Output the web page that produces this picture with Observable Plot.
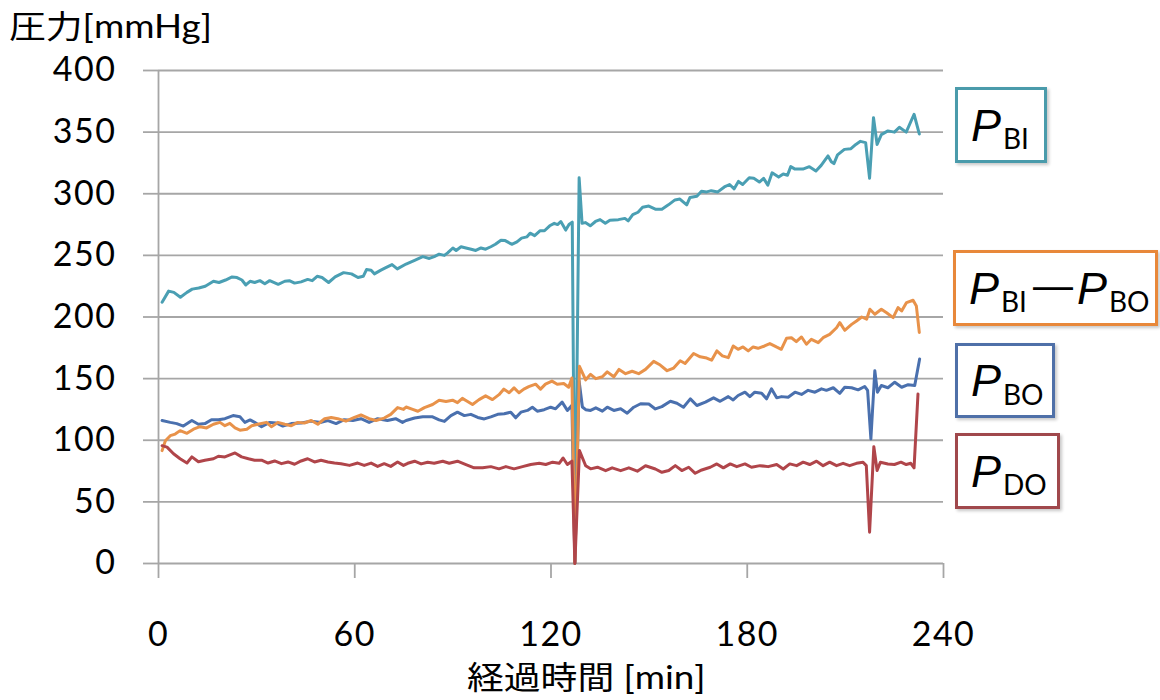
<!DOCTYPE html>
<html>
<head>
<meta charset="utf-8">
<script src="https://cdn.jsdelivr.net/npm/d3@7"></script>
<script src="https://cdn.jsdelivr.net/npm/@observablehq/plot@0.6"></script>
<style>
  html, body { margin:0; padding:0; background:#fff; }
  #wrap { position:relative; width:1160px; height:700px; overflow:hidden; }
  #wrap svg { position:absolute; left:0; top:0; }
  #wrap svg text { letter-spacing:1.5px; }
  .ttl { position:absolute; line-height:1; white-space:nowrap; color:#000; transform:scaleX(1.15); transform-origin:0 0; }
  .cjk { font-family:"Noto Sans CJK JP", sans-serif; }
  .lat { font-family:Lato, "Noto Sans CJK JP", sans-serif; }
  .lg { position:absolute; box-sizing:border-box; border:3px solid; background:#fff;
        box-shadow:2px 2px 3px rgba(0,0,0,0.22); display:flex; align-items:center;
        padding-left:13px; white-space:nowrap; color:#000; }
  .lg .P { font:italic 45px "Liberation Sans", Arial, sans-serif; line-height:1; }
  .lg .s { font:28px Lato, sans-serif; line-height:1; position:relative; top:13px; margin-left:2px; }
  .lg .d { font:40px "Liberation Sans", Arial, sans-serif; line-height:1; position:relative; top:-3px; margin:0 4px 0 6px; }
</style>
</head>
<body>
<div id="wrap"></div>
<script>
// ---- data (minutes, mmHg) ----
const xTicks = [0, 60, 120, 180, 240];
const yTicks = [0, 50, 100, 150, 200, 250, 300, 350, 400];

const P_BI = [[1.1,212],[3.1,221],[4.7,220],[6.7,216],[8.7,220],[10.3,222.6],[12.3,223.5],[14.3,225],[16.8,229],[18.5,228],[20.5,230],[22.5,232.5],[24,232],[25.5,230],[26.7,226],[28,229],[29.4,228],[31,229.5],[32.5,227],[34,229.5],[36.6,226.5],[38.6,229],[40,229.5],[41.6,227.5],[43.6,228.5],[45.6,230.5],[47,229.5],[48.5,233],[50,232],[52,228],[54,232.5],[56.6,236],[59,235],[61,232],[62.6,233],[63.6,238.5],[65,238],[66,235],[68,238],[69.5,240],[71.4,242.5],[73,239],[75.7,243],[78.3,246],[80.8,249],[82.8,247.5],[84.3,249],[85.8,251],[87.4,250],[88.4,252],[90,256],[91,254],[92.5,257],[94,256],[95.6,255],[97,254],[98.6,256],[100,255],[101.6,257],[103,259],[104.7,262.3],[106,262],[108,259],[109.6,261],[111,264],[112.6,265],[113.6,268],[115,266],[116.7,270],[118,270],[119.6,274],[121,276],[122,275],[123,277.5],[124.5,270.5],[125.5,275],[126.5,277],[127.3,0],[128.6,313],[129.5,276],[130.5,276.6],[132,274],[133.6,277.5],[135,279],[136.6,276],[138,278.5],[140.6,279],[142.6,280],[143.6,278],[145,283],[146.6,285],[148,289],[149.9,290],[151.9,287.5],[153.9,287.5],[155.9,291],[157.9,295],[159.4,295.7],[161.5,291],[162.5,297],[164.6,298],[166,302],[167.6,301.5],[169,302.5],[171,301.5],[173,305.5],[174.6,307.5],[176,304],[177.3,310],[178.6,307.5],[180.6,313],[182,312.5],[183.7,309.5],[185,312.5],[186.3,307],[187.6,317],[189.6,313.5],[191,316],[192.3,315],[193.3,322],[194.6,320],[197,320],[199,322],[201,318.5],[202.6,323],[204.7,330.7],[205.7,326],[206.5,324.5],[207.6,331.5],[209.7,336],[211.7,336.6],[213.2,340],[214.6,342.5],[216.2,341.5],[217.4,312.6],[218.6,361.7],[219.7,340],[221,348],[223,351],[225,350],[226.5,354],[228.6,350],[231,364.5],[232.6,348.5]];

const P_BO = [[1.1,116],[3.6,114.5],[5.6,113.5],[7.6,111.5],[10.2,116],[12.2,113],[14.2,113.5],[16.2,116.7],[18.3,116.7],[20.3,117.5],[22.8,120],[24.9,119],[26.4,114.5],[28,116.5],[29.4,114.5],[31.5,111],[34,114.5],[36,114],[38,111.5],[40.6,113.5],[43.6,114],[46.7,115.5],[49.7,114.5],[51.8,116],[54.3,113.5],[56.8,116.7],[59.4,116],[61.9,117.5],[64.4,114.5],[67,117.5],[70,116],[72.5,117.5],[74.6,114.5],[75.7,116],[78.3,118],[80.8,119],[83.8,119],[85.8,116.5],[87.4,115.3],[89.4,120],[91.4,122.8],[93.5,120],[95.5,121],[97.6,118.5],[99.6,117.3],[101.6,119],[103.7,121],[105.7,121.5],[107.7,122.8],[109.2,118.2],[110.8,122.8],[112.8,124.2],[114.3,126.8],[115.8,123.6],[117.9,124.8],[119.9,126.8],[121.4,125.5],[123.4,130.9],[125,124.2],[126.4,128.3],[127.3,0],[128.6,148],[129.6,127],[130.6,124.8],[132.1,124.2],[133.7,126.3],[135.7,123.6],[137.2,126.8],[139.2,124.2],[141.3,125.5],[143.3,122],[145.3,126.8],[147.4,129.6],[149.9,129.4],[151.9,125.4],[153.9,127.3],[156.5,131.6],[158.5,130],[160.5,126.8],[162.6,133.6],[164.6,128.2],[167.2,130.9],[169.7,134.4],[171.7,131.6],[174.2,135.4],[175.7,132.7],[177.2,136.3],[179.3,139],[180.8,135.4],[182.3,139],[184.4,138.1],[185.9,133.6],[187.4,141.7],[189,134.4],[190.5,135.4],[192.5,134.9],[194.6,139],[196.6,137.2],[198.6,140.5],[200.7,139],[202.7,141.7],[204.2,140.5],[206.3,142.6],[208.3,138.1],[209.8,143],[211.9,142.6],[213.9,140.9],[215.9,143.6],[216.8,140.5],[217.8,101],[219,156.4],[219.8,139],[221,144.4],[223,142.6],[225.1,147.1],[227.2,143],[229.2,145.1],[231.2,144.4],[232.7,166]];

const P_DIFF = [[1.1,91.6],[2.1,99.6],[3.6,103.7],[5.1,105],[6.6,107.8],[8.7,105.6],[10.7,109],[12.7,111],[14.7,110],[16.8,113],[18.8,114.5],[20.3,111.8],[21.8,113.7],[23.4,110],[24.9,108.2],[27,109],[28.5,111.8],[30.4,113],[33,114.5],[34.5,111],[36.5,114.5],[38.6,113],[40.6,111.8],[42.6,114.5],[44.6,114],[46.7,116],[48.7,113],[50.8,117.5],[52.8,118.5],[54.8,117.5],[57.3,115.5],[59.9,118.5],[61.9,120.5],[64.4,117.5],[66.5,116],[69,118],[71,121],[73.1,126.5],[74.9,125],[75.7,127],[77.7,125],[79.3,123.5],[81.3,126.5],[83.8,129],[85.8,132.5],[87.9,131.5],[89.9,132.5],[91.4,130.5],[92.9,134],[94.5,131.5],[96,129],[98,133],[100,136],[102.1,133],[104.1,137],[105.6,141.5],[107.2,138.5],[108.7,142.5],[110.2,138.5],[111.7,141.5],[113.2,143.5],[115.3,145.5],[116.8,141.5],[118.3,145.5],[120.3,148],[121.9,145.5],[123.9,146],[125.4,143],[126.4,150.5],[127.3,0],[128.7,160],[130.6,149],[132.1,153.5],[133.7,150],[135.7,151.5],[137.2,155.5],[139.2,151.5],[140.8,157.5],[142.8,154],[144.8,156],[146.8,154],[148.9,157.5],[151.4,164],[153.4,161],[155.5,156.4],[157.5,158.6],[159.5,164.5],[161,162.3],[163.6,170.4],[165.6,167.7],[167.6,166.7],[169.1,165],[170.7,172.5],[172.4,168.5],[174.2,167],[175.7,176.5],[177.2,173.8],[178.7,175.7],[180.3,172.5],[181.8,175.7],[183.3,174.6],[185.3,176.5],[186.9,178.4],[188.9,175.7],[190.4,173.8],[192,182.7],[193.5,183.2],[195,180],[196.6,183.8],[198.1,177.9],[199.6,181.9],[201.7,179.2],[203.2,183.2],[205.2,185.9],[207.3,191.3],[208.3,195.4],[209.8,189.2],[211.9,194],[213.4,196.8],[215,200],[216.5,198.2],[217.5,206.3],[219,202.2],[221,206.3],[222.6,203.5],[224.6,199.5],[226.1,207.6],[227.2,204.9],[228.7,211.7],[230.7,213.6],[231.7,209],[232.6,187.5]];

const P_DO = [[1.1,95.6],[2.6,94.4],[4.6,89],[6.6,85],[8.7,81.5],[10.2,86.5],[12.2,82.5],[14.2,83.8],[16.8,85],[18.3,87],[20.3,86.5],[23.4,89.7],[25.4,86.5],[27.5,85],[29.4,83.8],[31.5,83.8],[33.5,81.5],[35.5,83.2],[37.6,81],[39.6,82.4],[41.6,80.5],[43.6,83.2],[45.6,85],[47.7,82.4],[49.7,83.8],[51.8,82.4],[53.8,81.5],[55.8,81],[58.4,79.6],[60.9,81.5],[62.9,79.6],[65,81.5],[67,78.8],[69,81],[71,78.8],[73.1,82.4],[74.9,79.6],[76.2,81.3],[78.3,83],[80.3,80.8],[82.3,82.2],[84.3,81.3],[86.9,83],[88.9,81.3],[91.4,83],[94,80.3],[96.5,77.6],[99.1,77.6],[101.6,78.6],[104.1,76.8],[106.2,78.6],[108.7,76.8],[111.3,78.6],[113.8,80.3],[116.4,81.3],[118.4,80.3],[120.5,82.2],[122.5,81.3],[123.7,85.6],[125,80.3],[126.4,83],[127.3,0],[128.7,91.6],[130.6,79.3],[132.1,76.8],[134.2,78.1],[136.7,75.3],[138.7,77.6],[141.3,75.3],[143.8,77.6],[146.4,74.9],[148.9,79.3],[151.9,76.7],[153.9,74],[156,75.4],[158,79.4],[160,75.4],[162.1,78.1],[164.1,73.2],[166.1,75.9],[168.7,78.1],[170.7,80.8],[172.7,77.6],[174.8,80.8],[176.8,78.6],[179.3,80.8],[181.3,78.1],[183.9,79.4],[186.4,78.6],[189,80.3],[191,76.7],[193,80.8],[195.1,79.4],[197.1,82.2],[199.1,80.3],[201.2,83],[203.2,79.4],[205.2,82.2],[207.3,79.4],[209.3,81.3],[211.3,79.4],[213.4,81.3],[215.4,82.2],[216.4,79.4],[217.4,25.4],[218.7,94.8],[219.7,75.4],[220.7,82.2],[223,80.8],[225,80.3],[227,82.2],[228.6,80.3],[230,81.3],[231,77.6],[232.2,137.5]];

const seriesNames = ["P_BI", "P_BO", "P_BI−P_BO", "P_DO"];
const seriesColors = ["#4a9fb3", "#4a70ae", "#e8924a", "#b0454a"];
const seriesData = [P_BI, P_BO, P_DIFF, P_DO];

const gridColor = "#a6a6a6";

const chart = Plot.plot({
  width: 1160,
  height: 700,
  marginLeft: 158,
  marginRight: 217,
  marginTop: 70,
  marginBottom: 137,
  x: { domain: [0, 240] },
  y: { domain: [0, 400] },
  style: { fontFamily: "Lato, 'Noto Sans CJK JP', sans-serif", fontSize: "34px", color: "#000", background: "transparent", overflow: "visible" },
  marks: [
    Plot.ruleY(yTicks, { stroke: gridColor, strokeWidth: 1.8 }),
    Plot.ruleX([0], { stroke: gridColor, strokeWidth: 1.8 }),
    Plot.axisY({ ticks: yTicks, tickSize: 15, tickPadding: 27, stroke: gridColor, strokeWidth: 1.8, fontSize: 34, label: null }),
    Plot.axisX({ ticks: xTicks, tickSize: 15, tickPadding: 43, stroke: gridColor, strokeWidth: 1.8, fontSize: 34, label: null }),
    ...seriesData.map((d, i) => Plot.line(d, { x: p => p[0], y: p => p[1], stroke: seriesColors[i], strokeWidth: 3, strokeLinejoin: "round" }))
  ]
});

const wrap = document.getElementById("wrap");
wrap.appendChild(chart);

function addDiv(html, cls, style) {
  const el = document.createElement("div");
  el.className = cls;
  el.setAttribute("style", style);
  el.innerHTML = html;
  wrap.appendChild(el);
}

// titles
addDiv('<span class="cjk">圧力</span><span class="lat">[mmHg]</span>', "ttl", "left:9px;top:8px;font-size:32px;");
addDiv('<span class="cjk">経過時間</span> <span class="lat">[min]</span>', "ttl", "left:467px;top:659px;font-size:32px;");

// legend boxes
const legendBorders = ["#4a9bab", "#e8883a", "#4f70a8", "#a0484c"];
addDiv('<span class="P">P</span><span class="s">BI</span>', "lg", `left:955px;top:87px;width:92px;height:76px;border-color:${legendBorders[0]};`);
addDiv('<span class="P">P</span><span class="s">BI</span><span class="d">—</span><span class="P">P</span><span class="s">BO</span>', "lg", `left:953px;top:250px;width:205px;height:76px;border-color:${legendBorders[1]};`);
addDiv('<span class="P">P</span><span class="s">BO</span>', "lg", `left:955px;top:343px;width:100px;height:75px;border-color:${legendBorders[2]};`);
addDiv('<span class="P">P</span><span class="s">DO</span>', "lg", `left:955px;top:433px;width:105px;height:76px;border-color:${legendBorders[3]};`);
</script>
</body>
</html>
